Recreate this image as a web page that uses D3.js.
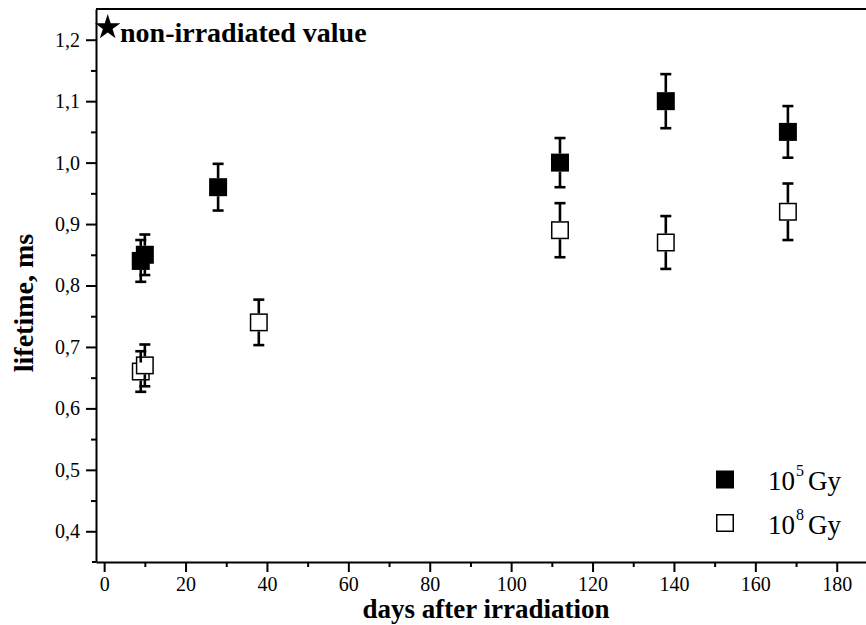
<!DOCTYPE html>
<html>
<head>
<meta charset="utf-8">
<script src="https://cdn.jsdelivr.net/npm/d3@7"></script>
<style>
  body { margin: 0; background: #fff; }
  svg { display: block; font-family: "Liberation Serif", "Times New Roman", serif; }
</style>
</head>
<body>
<div id="chart"></div>
<script>
// data
const days105 = [9, 10, 28, 112, 138, 168];
const life105 = [0.84, 0.85, 0.96, 1.00, 1.10, 1.05];
const err105 = [0.034, 0.033, 0.038, 0.040, 0.044, 0.042];

const days108 = [9, 10, 38, 112, 138, 168];
const life108 = [0.66, 0.67, 0.74, 0.89, 0.87, 0.92];
const err108 = [0.033, 0.034, 0.037, 0.044, 0.043, 0.046];

const refDay = 1;
const refLife = 1.22;

const xTicks = [0, 20, 40, 60, 80, 100, 120, 140, 160, 180];
const xMinor = [10, 30, 50, 70, 90, 110, 130, 150, 170];
const yTicks = [0.4, 0.5, 0.6, 0.7, 0.8, 0.9, 1.0, 1.1, 1.2];
const yTickLabels = ["0,4", "0,5", "0,6", "0,7", "0,8", "0,9", "1,0", "1,1", "1,2"];
const yMinor = [0.45, 0.55, 0.65, 0.75, 0.85, 0.95, 1.05, 1.15];

const W = 866, H = 625;
const margin = { top: 9, left: 96, bottom: 63 };

const svg = d3.select("#chart").append("svg")
    .attr("width", W)
    .attr("height", H);

const x = d3.scaleLinear()
    .domain([-2, 190])
    .range([margin.left, margin.left + 192 * 4.07]);

const y = d3.scaleLinear()
    .domain([0.35, 1.25])
    .range([H - margin.bottom, margin.top]);

// top frame line
svg.append("line")
    .attr("x1", margin.left).attr("x2", W)
    .attr("y1", margin.top).attr("y2", margin.top)
    .attr("stroke", "#000").attr("stroke-width", 2);

// axes
svg.append("g")
    .attr("transform", `translate(0,${H - margin.bottom})`)
    .call(d3.axisBottom(x).tickValues(xTicks).tickSize(10).tickSizeOuter(0).tickPadding(5));

svg.append("g")
    .attr("transform", `translate(0,${H - margin.bottom})`)
    .call(d3.axisBottom(x).tickValues(xMinor).tickSize(5).tickFormat(""))
    .select(".domain").remove();

svg.append("g")
    .attr("transform", `translate(${margin.left},0)`)
    .call(d3.axisLeft(y).tickValues(yTicks).tickSize(10).tickSizeOuter(0).tickPadding(6)
        .tickFormat((d, i) => yTickLabels[i]));

svg.append("g")
    .attr("transform", `translate(${margin.left},0)`)
    .call(d3.axisLeft(y).tickValues(yMinor).tickSize(5).tickFormat(""))
    .select(".domain").remove();

svg.selectAll("g").attr("font-family", null);
svg.selectAll(".domain").attr("stroke-width", 2);
svg.selectAll(".tick line").attr("stroke-width", 2);
svg.selectAll(".tick text")
    .attr("font-family", "Liberation Serif")
    .attr("font-size", 20)
    .attr("fill", "#000");

// extend bottom axis line a bit left of the y axis
svg.append("line")
    .attr("x1", margin.left - 4).attr("x2", margin.left)
    .attr("y1", H - margin.bottom).attr("y2", H - margin.bottom)
    .attr("stroke", "#000").attr("stroke-width", 2);

// axis titles
svg.append("text")
    .attr("x", 486).attr("y", 618)
    .attr("text-anchor", "middle")
    .attr("font-weight", "bold")
    .attr("font-size", 27)
    .text("days after irradiation");

svg.append("text")
    .attr("transform", "translate(33,303) rotate(-90)")
    .attr("text-anchor", "middle")
    .attr("font-weight", "bold")
    .attr("font-size", 28)
    .text("lifetime, ms");

// series
const sq = 18;
function drawSeries(days, life, err, filled) {
    const pts = days.map((d, i) => ({ d, v: life[i], e: err[i] }));
    const g = svg.append("g");
    g.selectAll("rect").data(pts).join("rect")
        .attr("x", p => x(p.d) - sq / 2 + (filled ? 0 : 0.75))
        .attr("y", p => y(p.v) - sq / 2 + (filled ? 0 : 0.75))
        .attr("width", filled ? sq : sq - 1.5)
        .attr("height", filled ? sq : sq - 1.5)
        .attr("fill", filled ? "#000" : "#fff")
        .attr("stroke", "#000")
        .attr("stroke-width", filled ? 0 : 1.5);

    // error bars start at the symbol edge
    const eb = g.selectAll("g.eb").data(pts).join("g").attr("class", "eb");
    eb.append("line")
        .attr("x1", p => x(p.d)).attr("x2", p => x(p.d))
        .attr("y1", p => y(p.v + p.e)).attr("y2", p => y(p.v) - sq / 2);
    eb.append("line")
        .attr("x1", p => x(p.d)).attr("x2", p => x(p.d))
        .attr("y1", p => y(p.v) + sq / 2).attr("y2", p => y(p.v - p.e));
    eb.append("line")
        .attr("x1", p => x(p.d) - 5.5).attr("x2", p => x(p.d) + 5.5)
        .attr("y1", p => y(p.v + p.e)).attr("y2", p => y(p.v + p.e));
    eb.append("line")
        .attr("x1", p => x(p.d) - 5.5).attr("x2", p => x(p.d) + 5.5)
        .attr("y1", p => y(p.v - p.e)).attr("y2", p => y(p.v - p.e));
    eb.selectAll("line").attr("stroke", "#000").attr("stroke-width", 2.6);
}

drawSeries(days105, life105, err105, true);
drawSeries(days108, life108, err108, false);

// non-irradiated reference star
svg.append("path")
    .attr("d", d3.symbol(d3.symbolStar, 200)())
    .attr("transform", `translate(${x(refDay) - 0.5},${y(refLife)})`)
    .attr("fill", "#000");

svg.append("text")
    .attr("x", 120).attr("y", 42)
    .attr("font-weight", "bold")
    .attr("font-size", 28)
    .text("non-irradiated value");

// legend
const legend = [
    { label: "10", sup: "5", filled: true, cy: 479.5 },
    { label: "10", sup: "8", filled: false, cy: 523 }
];
legend.forEach(l => {
    svg.append("rect")
        .attr("x", 716 + (l.filled ? 0 : 0.75)).attr("y", l.cy - 9 + (l.filled ? 0 : 0.75))
        .attr("width", l.filled ? 18 : 16.5).attr("height", l.filled ? 18 : 16.5)
        .attr("fill", l.filled ? "#000" : "#fff")
        .attr("stroke", "#000").attr("stroke-width", l.filled ? 0 : 1.5);
    const t = svg.append("text")
        .attr("x", 768).attr("y", l.cy + 10.5)
        .attr("font-size", 27);
    t.append("tspan").text(l.label);
    t.append("tspan").attr("dy", -14).attr("dx", 1).attr("font-size", 16).text(l.sup);
    t.append("tspan").attr("dy", 14).attr("dx", 4).text("Gy");
});
</script>
</body>
</html>
